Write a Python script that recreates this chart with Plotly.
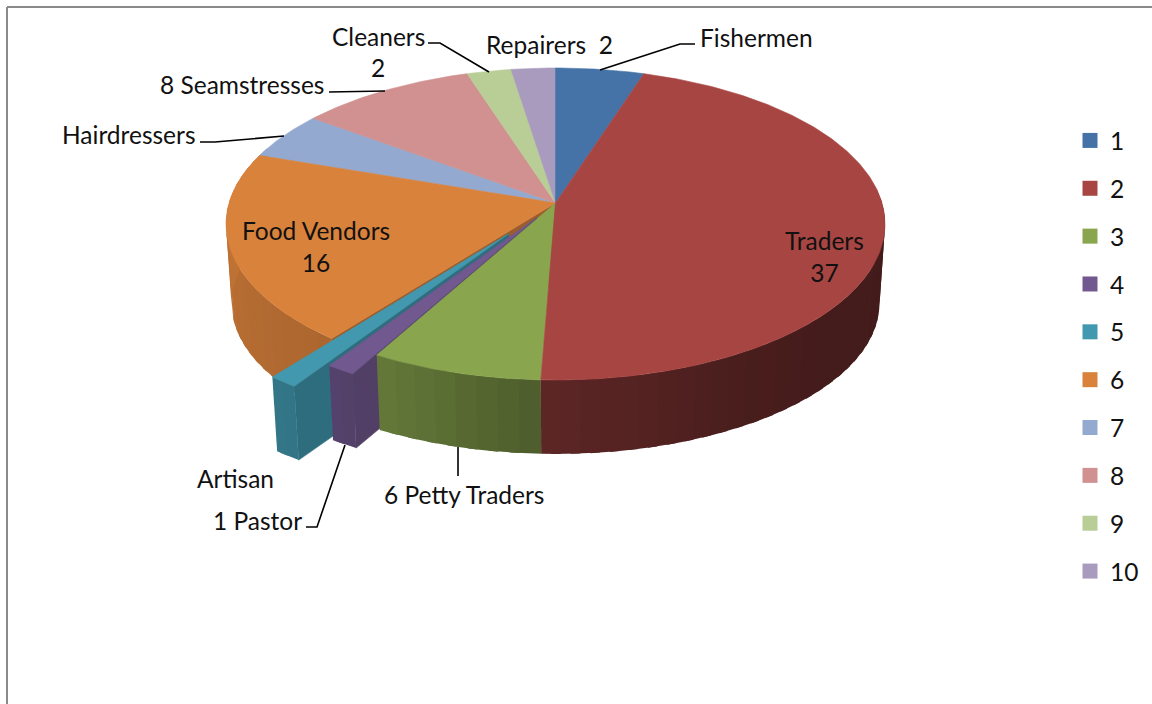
import numpy as np
import plotly.graph_objects as go

# ---- data ----
categories = ["1", "2", "3", "4", "5", "6", "7", "8", "9", "10"]
values = [4, 37, 6, 1, 1, 16, 4, 8, 2, 2]
explode = [0, 0, 0, 0.11, 0.24, 0, 0, 0, 0, 0]
colors = ["#4572A7", "#A74543", "#89A54E", "#71588F", "#4198AF",
          "#D9823C", "#93A9CF", "#D09190", "#B9CD96", "#A99BBD"]
labels = ["Fishermen", "Repairers  2", "Cleaners", "2", "8 Seamstresses", "Hairdressers",
          "Food Vendors<br>16", "Traders<br>37", "Artisan", "6 Petty Traders", "1 Pastor"]

# ---- style / layout ----
FONT = "Lato"
FS = 24.5
A_TOP, B_TOP, CY_TOP = 326.5, 153.2, 203.0
A_BOT, B_BOT, CY_BOT = 321.0, 148.0, 283.0
CX, K = 555.5, 0.1346
DRAW_ORDER = [6, 7, 8, 9, 0, 5, 4, 3, 2, 1]


def project(u, v, bottom=False):
    w = 1 + K * v
    if bottom:
        return CX + A_BOT * u / w, CY_BOT - B_BOT * v / w
    return CX + A_TOP * u / w, CY_TOP - B_TOP * v / w


def shade_hex(col, f):
    r, g, b = int(col[1:3], 16), int(col[3:5], 16), int(col[5:7], 16)
    return "#%02x%02x%02x" % (int(r * f), int(g * f), int(b * f))


def rim_shade(deg):
    return float(np.interp(deg, [90, 130, 150, 182, 209, 218, 270, 290],
                           [0.40, 0.41, 0.44, 0.56, 0.74, 0.79, 0.88, 0.88]))


fig = go.Figure()


def poly(xs, ys, color, width=0.6):
    fig.add_trace(go.Scatter(x=xs, y=ys, mode="lines", fill="toself", fillcolor=color,
                             line=dict(color=color, width=width), hoverinfo="skip",
                             showlegend=False))


total = sum(values)
ends = np.cumsum(values) / total * 360.0
starts = np.concatenate([[0.0], ends[:-1]])

for i in DRAW_ORDER:
    a0, a1 = starts[i], ends[i]
    bis = np.radians((a0 + a1) / 2)
    ou, ov = explode[i] * np.sin(bis), explode[i] * np.cos(bis)
    col = colors[i]

    # radial face on the clockwise-start edge (faces the viewer on the lower left half)
    if explode[i] > 0 or i == 5:
        r = np.radians(a0)
        ru, rv = ou + np.sin(r), ov + np.cos(r)
        p0t, p1t = project(ou, ov), project(ru, rv)
        p1b, p0b = project(ru, rv, True), project(ou, ov, True)
        poly([p0t[0], p1t[0], p1b[0], p0b[0], p0t[0]],
             [p0t[1], p1t[1], p1b[1], p0b[1], p0t[1]], shade_hex(col, 0.72))

    # outer rim, in narrow overlapping bands painted one over the next
    lo, hi = max(a0, 85.0), min(a1, 292.0)
    if hi > lo:
        n = max(2, int((hi - lo) / 3))
        edges = np.linspace(lo, hi, n + 1)
        for e0, e1 in zip(edges[:-1], edges[1:]):
            t = np.radians(np.linspace(e0, min(e1 + 1.5, hi), 6))
            u, v = ou + np.sin(t), ov + np.cos(t)
            xt, yt = project(u, v)
            xb, yb = project(u, v, True)
            poly(np.r_[xt, xb[::-1], xt[0]], np.r_[yt, yb[::-1], yt[0]],
                 shade_hex(col, rim_shade((e0 + e1) / 2)), width=0)

    # top face
    t = np.radians(np.linspace(a0, a1, max(4, int((a1 - a0) * 1.5))))
    u = np.r_[ou, ou + np.sin(t), ou]
    v = np.r_[ov, ov + np.cos(t), ov]
    xt, yt = project(u, v)
    poly(xt, yt, col)

# legend entries
for i, name in enumerate(categories):
    fig.add_trace(go.Scatter(x=[None], y=[None], mode="markers", name=name,
                             legendgroup=name,
                             marker=dict(symbol="square", size=15, color=colors[i])))

# text labels: (index, x, y, xanchor)
placed = [(0, 698, 37, "left"), (1, 484, 44, "left"), (2, 330, 36, "left"), (3, 378, 67, "center"),
          (4, 158, 84, "left"), (5, 60, 134, "left"), (6, 316, 246, "center"), (7, 824, 256, "center"),
          (8, 235, 478, "center"), (9, 382, 494, "left"), (10, 211, 520, "left")]
annotations = [dict(x=x, y=y, text=labels[i], xref="x", yref="y", xanchor=anc, yanchor="middle",
                    showarrow=False, align="center", font=dict(family=FONT, size=FS, color="#111111"))
               for i, x, y, anc in placed]

leaders = ["M600,70 L680,44 L695,44", "M428,43 L440,43 L489,72", "M329,92 L385,91",
           "M200,142 L215,142 L284,136", "M458,447 L458,476", "M306,527 L317,527 L345,445"]
shapes = [dict(type="path", path=p, line=dict(color="#000000", width=1.6), xref="x", yref="y")
          for p in leaders]
shapes += [dict(type="line", x0=7, x1=7, y0=7, y1=704, xref="x", yref="y", line=dict(color="#8a8a8a", width=2)),
           dict(type="line", x0=7, x1=1152, y0=7, y1=7, xref="x", yref="y", line=dict(color="#8a8a8a", width=2))]

fig.update_layout(
    width=1152, height=704, margin=dict(l=0, r=0, t=0, b=0),
    paper_bgcolor="#ffffff", plot_bgcolor="#ffffff",
    xaxis=dict(range=[0, 1152], visible=False, fixedrange=True),
    yaxis=dict(range=[704, 0], visible=False, fixedrange=True),
    annotations=annotations, shapes=shapes, showlegend=True,
    legend=dict(x=1070 / 1152, y=1 - 118 / 704, xanchor="left", yanchor="top", tracegroupgap=13,
                font=dict(family=FONT, size=FS, color="#111111"), bgcolor="rgba(0,0,0,0)"),
)
fig.write_html("out.html", post_script="document.body.style.margin='0';",
               config=dict(displayModeBar=False))
